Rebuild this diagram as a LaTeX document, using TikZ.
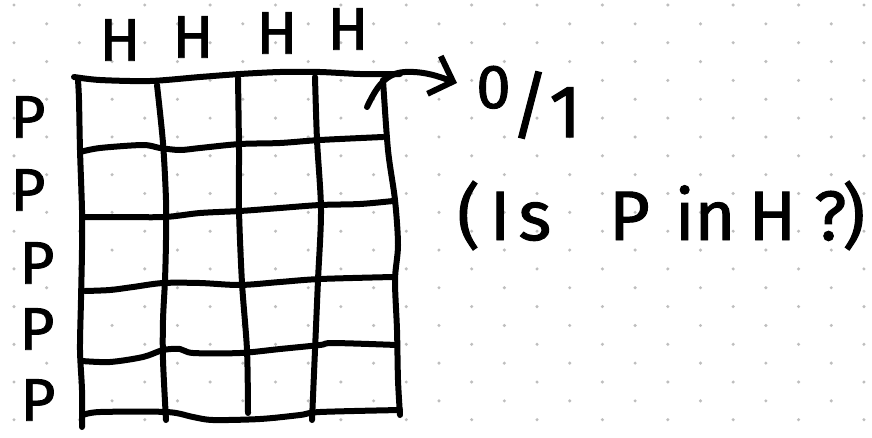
\documentclass[tikz,border=0pt]{standalone}
\usepackage{fontspec}
\setmainfont{Fira Sans}
\newfontfamily\handfont[FakeBold=1.4]{Fira Sans}
\usetikzlibrary{arrows.meta}
\definecolor{dotc}{RGB}{190,190,190}
\tikzset{
  gridline/.style={line width=6pt, line cap=round, line join=round},
  lbl/.style={inner sep=0pt, font=\handfont\fontsize{60}{60}\selectfont},
  bigtxt/.style={inner sep=0pt, font=\handfont\fontsize{70}{70}\selectfont},
  arr/.style={line width=6pt, line cap=round, line join=round,
    -{Straight Barb[length=20pt, width=40pt, line width=6pt]}}
}
\begin{document}
\begin{tikzpicture}[x=1pt,y=-1pt]
\useasboundingbox (0,0) rectangle (872,437);
\clip (0,0) rectangle (872,437);
\fill[white] (0,0) rectangle (872,437);
% dotted paper
\foreach \k in {0,...,22}{
  \pgfmathsetmacro\yy{5+18.85*\k}
  \pgfmathsetmacro\off{mod(\k,2)*32.69}
  \foreach \j in {0,...,13}{
    \fill[dotc] ({14+\off+65.38*\j},\yy) circle (1.7pt);
  }
}
% grid: horizontal lines
\draw[gridline] plot[smooth] coordinates {(74,77) (100,80) (150,81) (200,77) (240,74) (280,72) (320,72) (360,74) (400,74)};
\draw[gridline] plot[smooth] coordinates {(80,152) (100,148) (143,145) (160,148) (180,150) (200,148) (240,144) (280,143) (320,140) (383,137)};
\draw[gridline] plot[smooth] coordinates {(82,217) (120,217) (165,217) (200,213) (240,211) (280,208) (320,205) (360,204) (393,201)};
\draw[gridline] plot[smooth] coordinates {(85,291) (110,290) (133,287) (163,283) (200,283) (240,285) (280,282) (320,279) (393,277)};
\draw[gridline] plot[smooth] coordinates {(82,361) (110,362) (143,357) (163,350) (180,349) (193,353) (240,353) (280,349) (320,345) (333,343) (397,345)};
\draw[gridline] plot[smooth] coordinates {(83,415) (100,412) (167,412) (193,417) (213,420) (260,419) (300,415) (320,412) (400,410)};
% grid: vertical lines
\draw[gridline] plot[smooth] coordinates {(78,80) (79,100) (80,150) (82,210) (82,250) (81,300) (80,350) (82,390) (82,427)};
\draw[gridline] plot[smooth] coordinates {(157,85) (163,143) (166,200) (166,240) (165,280) (163,320) (163,360) (166,420)};
\draw[gridline] plot[smooth] coordinates {(238,78) (239,150) (239,210) (242,283) (247,350) (248,413)};
\draw[gridline] plot[smooth] coordinates {(315,77) (317,140) (321,210) (318,280) (315,350) (312,420)};
\draw[gridline] plot[smooth] coordinates {(383,80) (388,150) (395,200) (398,245) (395,280) (397,330) (398,380) (400,415)};
% labels
\node[lbl] (h1) at (120,40) {H};
\node[lbl] (h2) at (193,37) {H};
\node[lbl] (h3) at (277,33) {H};
\node[lbl] (h4) at (348,29) {H};
\node[lbl] (p1) at (28,117) {P};
\node[lbl] (p2) at (28,190) {P};
\node[lbl] (p3) at (37,263) {P};
\node[lbl] (p4) at (37,329) {P};
\node[lbl] (p5) at (38,400) {P};
% result
\node[bigtxt, anchor=base west] (n01) at (476,137)
  {\raisebox{29pt}{\fontsize{62}{62}\selectfont 0}\fontsize{74}{74}\selectfont\raisebox{6pt}{/}1};
\node[bigtxt, anchor=base west] (q) at (457,240)
  {(\hspace{10pt}I\hspace{8pt}s\hspace{58pt}P\hspace{25pt}in\hspace{13pt}H\hspace{18pt}?\hspace{-4pt})};
% arrow
\coordinate (as) at (367,107);
\coordinate (tip) at (457,83);
\draw[arr] (as) .. controls (377,86) and (386,73) .. (405,72)
  .. controls (425,71) and (440,77) .. (tip);
\end{tikzpicture}
\end{document}
